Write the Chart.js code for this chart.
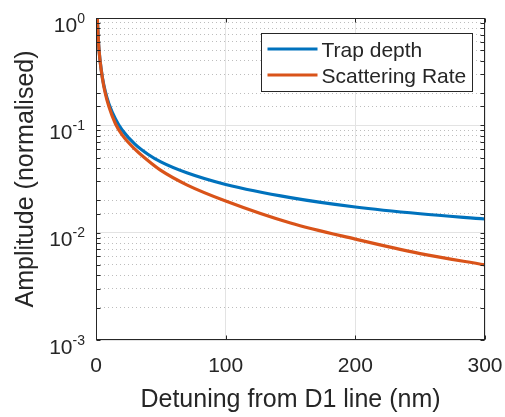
<!DOCTYPE html>
<html>
<head>
<meta charset="utf-8">
<script src="https://cdn.jsdelivr.net/npm/chart.js@4.4.1/dist/chart.umd.min.js"></script>
<style>
  html, body { margin: 0; padding: 0; background: #fff; }
</style>
</head>
<body>
<canvas id="amp-chart" width="505" height="417"></canvas>
<script>
// Values (detuning in nm, amplitudes normalised)
const detuning = [1, 2, 3, 5, 7, 10, 15, 20, 30, 40, 50, 70, 100, 150, 200, 250, 300];
const trapDepth = [1, 0.574, 0.415, 0.276, 0.211, 0.158, 0.1146, 0.0910, 0.0668, 0.0538, 0.0456, 0.0361,
                   0.0281, 0.0212, 0.01734, 0.0150, 0.0134];
const scatterRate = [1, 0.573, 0.413, 0.272, 0.203, 0.149, 0.1035, 0.0820, 0.0600, 0.0470, 0.0380, 0.0279,
                     0.01972, 0.0123, 0.00871, 0.00638, 0.00501];
const seriesLabels = ['Trap depth', 'Scattering Rate'];
const seriesColors = ['#0072BD', '#D95319'];
const yExponents = [0, -1, -2, -3];

const axisColor = '#262626';
const fontName = '"Liberation Sans", Arial, Helvetica, sans-serif';

function isDecade(v) {
    const l = Math.log10(v);
    return Math.abs(l - Math.round(l)) < 1e-6;
}

function toPoints(ys) {
    return detuning.map((d, i) => ({ x: d, y: ys[i] }));
}

// Draws the MATLAB style box, inward ticks, labels and legend
const matlabFrame = {
    id: 'matlabFrame',
    afterDraw(chart) {
        const { ctx, chartArea: a, scales: { x, y } } = chart;
        const L = Math.round(a.left) + 0.5, R = Math.round(a.right) - 0.5;
        const T = Math.round(a.top) + 0.5, B = Math.round(a.bottom) - 0.5;
        ctx.save();

        // box
        ctx.strokeStyle = axisColor;
        ctx.lineWidth = 1;
        ctx.strokeRect(L, T, R - L, B - T);

        // ticks
        ctx.beginPath();
        x.ticks.forEach(t => {
            const px = Math.round(x.getPixelForValue(t.value)) + 0.5;
            ctx.moveTo(px, B); ctx.lineTo(px, B - 4);
            ctx.moveTo(px, T); ctx.lineTo(px, T + 4);
        });
        y.ticks.forEach(t => {
            const py = Math.round(y.getPixelForValue(t.value)) + 0.5;
            ctx.moveTo(L, py); ctx.lineTo(L + 4, py);
            ctx.moveTo(R, py); ctx.lineTo(R - 4, py);
        });
        ctx.stroke();

        ctx.fillStyle = axisColor;

        // x tick labels
        ctx.font = '21px ' + fontName;
        ctx.textAlign = 'center';
        ctx.textBaseline = 'alphabetic';
        x.ticks.forEach(t => {
            ctx.fillText(String(t.value), x.getPixelForValue(t.value), a.bottom + 32);
        });

        // y tick labels 10^n
        ctx.textAlign = 'left';
        yExponents.forEach(e => {
            const py = y.getPixelForValue(Math.pow(10, e));
            const sup = e < 0 ? '-' + Math.abs(e) : String(e);
            ctx.font = '14px ' + fontName;
            const wSup = ctx.measureText(sup).width;
            ctx.font = '21px ' + fontName;
            const wBase = ctx.measureText('10').width;
            const right = a.left - 11;
            ctx.fillText('10', right - wSup - wBase, py + 13.5);
            ctx.font = '14px ' + fontName;
            ctx.fillText(sup, right - wSup, py + 4.5);
        });

        // axis titles
        ctx.font = '25px ' + fontName;
        ctx.textAlign = 'center';
        ctx.fillText('Detuning from D1 line (nm)', (a.left + a.right) / 2, a.bottom + 67);
        ctx.save();
        ctx.translate(33, (a.top + a.bottom) / 2);
        ctx.rotate(-Math.PI / 2);
        ctx.fillText('Amplitude (normalised)', 0, 0);
        ctx.restore();

        // legend
        const bx = Math.round(a.right - 224) + 0.5, by = Math.round(a.top + 15) + 0.5;
        const bw = 211, bh = 58;
        ctx.fillStyle = '#fff';
        ctx.fillRect(bx, by, bw, bh);
        ctx.strokeStyle = axisColor;
        ctx.lineWidth = 1;
        ctx.strokeRect(bx, by, bw, bh);
        ctx.font = '21px ' + fontName;
        ctx.textAlign = 'left';
        chart.data.datasets.forEach((ds, i) => {
            const ly = by + 15.5 + i * 26;
            ctx.strokeStyle = ds.borderColor;
            ctx.lineWidth = 3;
            ctx.beginPath();
            ctx.moveTo(bx + 6, ly);
            ctx.lineTo(bx + 56, ly);
            ctx.stroke();
            ctx.fillStyle = axisColor;
            ctx.fillText(ds.label, bx + 60, ly + 7.5);
        });

        ctx.restore();
    }
};

const chartCtx = document.getElementById('amp-chart').getContext('2d');
const ampChart = new Chart(chartCtx, {
    type: 'line',
    data: {
        datasets: [
            { label: seriesLabels[0], data: toPoints(trapDepth), borderColor: seriesColors[0], order: 1 },
            { label: seriesLabels[1], data: toPoints(scatterRate), borderColor: seriesColors[1], order: 0 }
        ]
    },
    options: {
        responsive: false,
        animation: false,
        events: [],
        devicePixelRatio: 1,
        layout: { padding: { left: 96, right: 20, top: 18, bottom: 77 } },
        elements: {
            point: { radius: 0 },
            line: { borderWidth: 3.2, cubicInterpolationMode: 'monotone', fill: false }
        },
        plugins: {
            legend: { display: false },
            tooltip: { enabled: false }
        },
        scales: {
            x: {
                type: 'linear',
                min: 0,
                max: 300,
                ticks: { display: false, stepSize: 100 },
                grid: { color: '#e3e3e3', lineWidth: 1, drawTicks: false },
                border: { display: false }
            },
            y: {
                type: 'logarithmic',
                min: 0.001,
                max: 1,
                ticks: { display: false },
                grid: {
                    drawTicks: false,
                    lineWidth: 1,
                    color: c => (c.tick && isDecade(c.tick.value)) ? '#e3e3e3' : '#bdbdbd'
                },
                border: {
                    display: false,
                    dash: c => (c.tick && isDecade(c.tick.value)) ? [] : [1, 3]
                }
            }
        }
    },
    plugins: [matlabFrame]
});
</script>
</body>
</html>
